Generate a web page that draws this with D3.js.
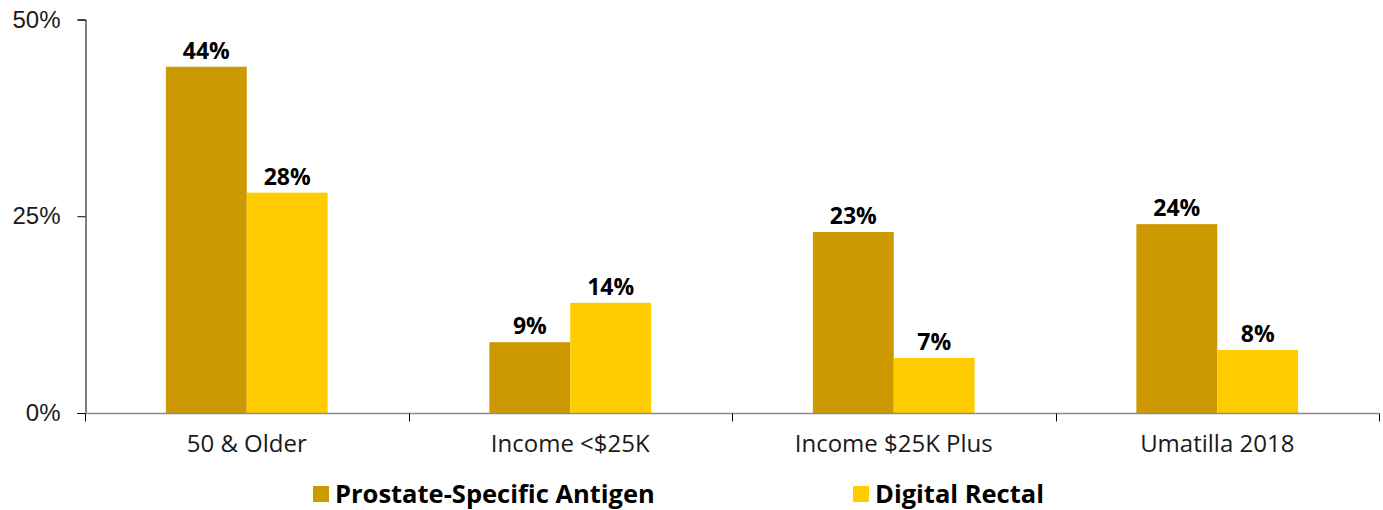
<!DOCTYPE html>
<html>
<head>
<meta charset="utf-8">
<script src="https://cdn.jsdelivr.net/npm/d3@7"></script>
<style>
  body { margin: 0; background: #fff; }
  svg { display: block; font-family: "Open Sans", "Noto Sans", sans-serif; }
</style>
</head>
<body>
<div id="chart"></div>
<script>
var categories = ["50 & Older", "Income <$25K", "Income $25K Plus", "Umatilla 2018"];
var seriesNames = ["Prostate-Specific Antigen", "Digital Rectal"];
var psaValues = [44, 9, 23, 24];
var drValues = [28, 14, 7, 8];
var yTicks = [0, 25, 50];

var colors = ["#CC9900", "#FFCC00"];

var svgWidth = 1383;
var svgHeight = 510;

var svg = d3.select("#chart")
  .append("svg")
  .attr("width", svgWidth)
  .attr("height", svgHeight);

var x0 = d3.scaleBand()
  .domain(categories)
  .range([85, 1379])
  .padding(0);

var x1 = d3.scaleBand()
  .domain(seriesNames)
  .range([x0.bandwidth() / 4, x0.bandwidth() * 3 / 4])
  .padding(0);

var y = d3.scaleLinear()
  .domain([0, 50])
  .range([413, 19.5]);

// y axis
var yAxis = svg.append("g")
  .attr("transform", "translate(85.5,0)")
  .call(d3.axisLeft(y).tickValues(yTicks).tickSize(8).tickPadding(17).tickFormat(d => d + "%"));
yAxis.select(".domain").attr("stroke", "#000");
yAxis.selectAll(".tick line").attr("stroke", "#000");
yAxis.selectAll("text")
  .style("font-size", "24px")
  .attr("fill", "#1a1a1a");

// group data
var data = categories.map(function(c, i) {
  return { cat: c, values: [psaValues[i], drValues[i]] };
});

var groups = svg.selectAll(".grp")
  .data(data)
  .enter()
  .append("g")
  .attr("class", "grp")
  .attr("transform", d => `translate(${x0(d.cat)},0)`);

groups.selectAll("rect")
  .data(d => d.values.map((v, j) => ({ name: seriesNames[j], v: v, j: j })))
  .enter()
  .append("rect")
  .attr("x", d => x1(d.name))
  .attr("y", d => y(d.v))
  .attr("width", x1.bandwidth())
  .attr("height", d => y(0) - y(d.v))
  .attr("fill", d => colors[d.j]);

groups.selectAll(".val")
  .data(d => d.values.map((v, j) => ({ name: seriesNames[j], v: v, j: j })))
  .enter()
  .append("text")
  .attr("class", "val")
  .attr("x", d => x1(d.name) + x1.bandwidth() / 2)
  .attr("y", d => y(d.v) - 8)
  .attr("text-anchor", "middle")
  .style("font-size", "23px")
  .style("font-weight", "bold")
  .attr("fill", "#000")
  .text(d => d.v + "%");

// x axis
var xAxis = svg.append("g")
  .attr("transform", "translate(0,413.5)");
xAxis.append("line")
  .attr("x1", 85).attr("x2", 1379)
  .attr("stroke", "#8c8c8c")
  .attr("stroke-width", 1.5);
var bounds = categories.map(c => x0(c)).concat([x0.range()[1]]);
xAxis.selectAll(".tk")
  .data(bounds)
  .enter()
  .append("line")
  .attr("x1", d => Math.round(d) + 0.5)
  .attr("x2", d => Math.round(d) + 0.5)
  .attr("y1", 0)
  .attr("y2", 8)
  .attr("stroke", "#000");
xAxis.selectAll(".lbl")
  .data(categories)
  .enter()
  .append("text")
  .attr("x", d => x0(d) + x0.bandwidth() / 2)
  .attr("y", 38)
  .attr("text-anchor", "middle")
  .style("font-size", "24px")
  .attr("fill", "#1a1a1a")
  .text(d => d);

// legend
var legendX = [313, 853];
var legend = svg.selectAll(".leg")
  .data(seriesNames)
  .enter()
  .append("g")
  .attr("class", "leg")
  .attr("transform", (d, i) => `translate(${legendX[i]},486)`);
legend.append("rect")
  .attr("width", 16)
  .attr("height", 16)
  .attr("fill", (d, i) => colors[i]);
legend.append("text")
  .attr("x", 22)
  .attr("y", 17)
  .style("font-size", "25.5px")
  .style("font-weight", "bold")
  .attr("fill", "#000")
  .text(d => d);
</script>
</body>
</html>
